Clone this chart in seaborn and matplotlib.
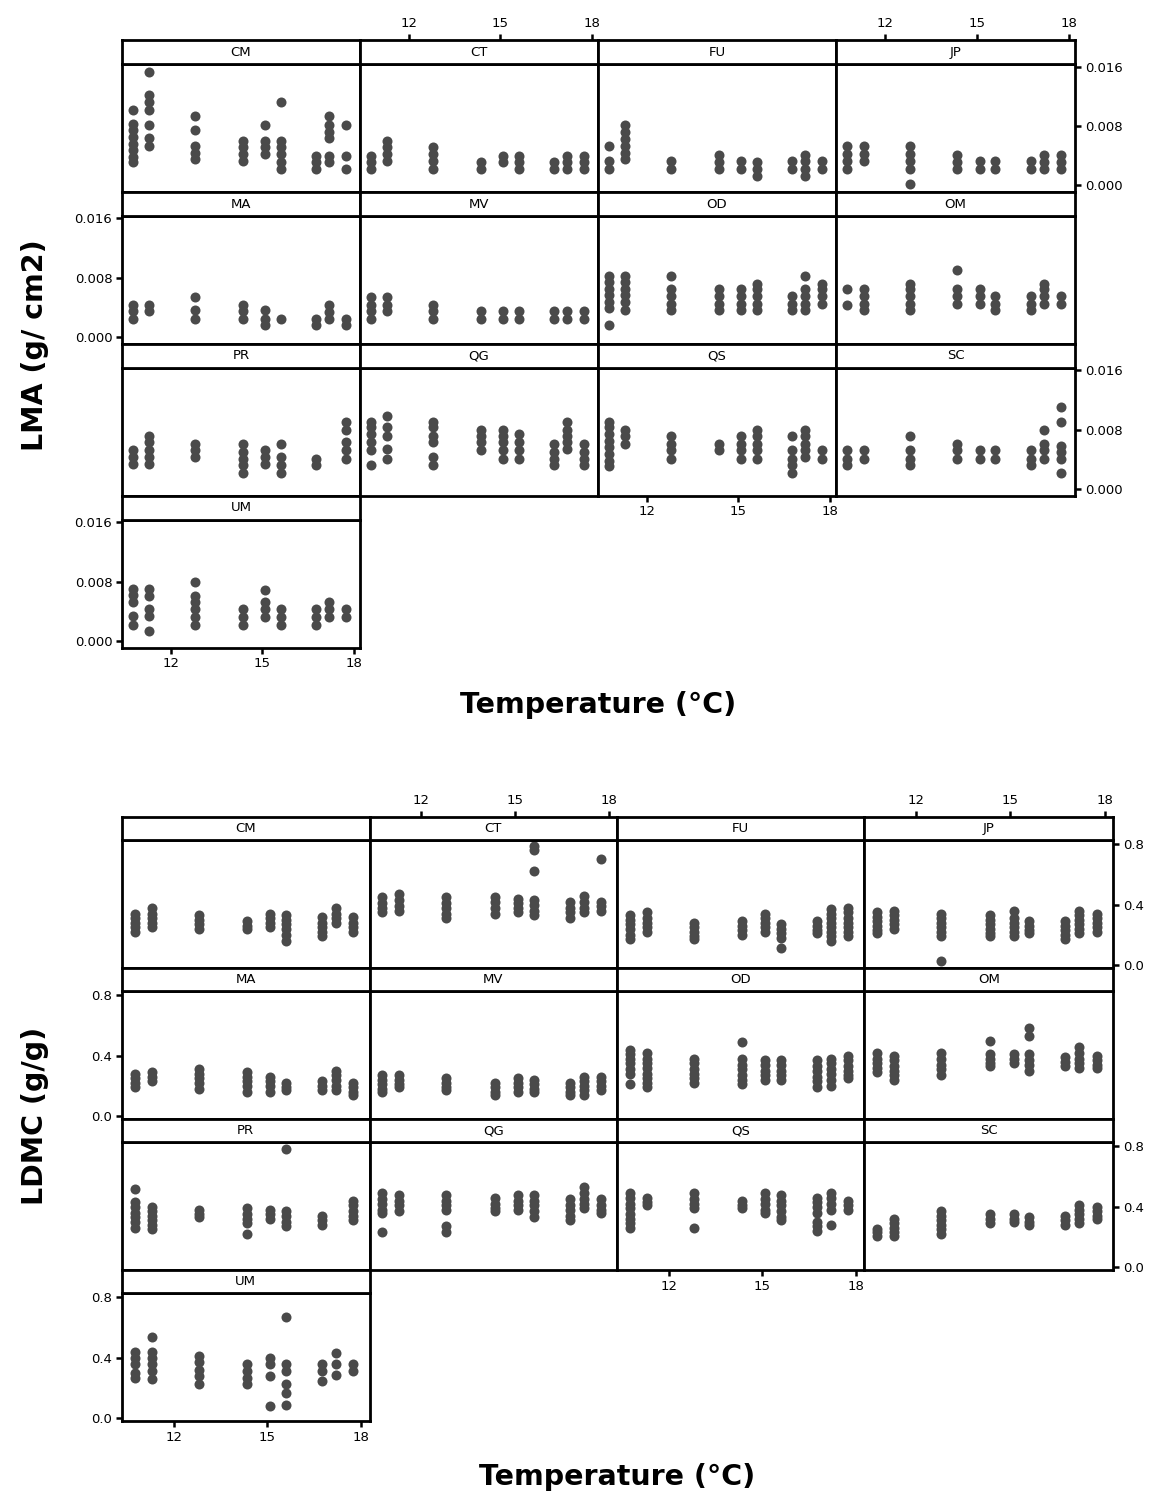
import matplotlib
matplotlib.use('Agg')
import matplotlib.pyplot as plt
import pandas as pd
import seaborn as sns

# Growth temperatures (x positions of the dot strips).
temps = [10.75, 11.3, 12.8, 14.35, 15.1, 15.6, 16.75, 17.2, 17.75]
species = ['CM', 'CT', 'FU', 'JP', 'MA', 'MV', 'OD', 'OM', 'PR', 'QG', 'QS',
           'SC', 'UM']

# LMA (g/cm2), one list of replicates per temperature.
lma_cm = [[0.0101, 0.0082, 0.0074, 0.0065, 0.0056, 0.0047, 0.0038, 0.0031],
          [0.0152, 0.0121, 0.0112, 0.0101, 0.0081, 0.0063, 0.0053],
          [0.0093, 0.0074, 0.0053, 0.0044, 0.0035],
          [0.0060, 0.0051, 0.0042, 0.0033],
          [0.0081, 0.0060, 0.0051, 0.0042],
          [0.0112, 0.0060, 0.0051, 0.0042, 0.0031, 0.0022],
          [0.0040, 0.0031, 0.0022],
          [0.0093, 0.0081, 0.0072, 0.0063, 0.0040, 0.0031],
          [0.0081, 0.0040, 0.0022]]
lma_ct = [[0.0040, 0.0031, 0.0022], [0.0060, 0.0051, 0.0042, 0.0033],
          [0.0051, 0.0042, 0.0033, 0.0022], [0.0031, 0.0022],
          [0.0040, 0.0031], [0.0040, 0.0031, 0.0022], [0.0031, 0.0022],
          [0.0040, 0.0031, 0.0022], [0.0040, 0.0031, 0.0022]]
lma_fu = [[0.0053, 0.0033, 0.0022],
          [0.0081, 0.0072, 0.0062, 0.0053, 0.0044, 0.0035],
          [0.0033, 0.0022], [0.0041, 0.0031, 0.0022], [0.0033, 0.0022],
          [0.0031, 0.0022, 0.0013], [0.0033, 0.0022],
          [0.0041, 0.0033, 0.0022, 0.0013], [0.0033, 0.0022]]
lma_jp = [[0.0053, 0.0042, 0.0033, 0.0022], [0.0053, 0.0042, 0.0033],
          [0.0053, 0.0042, 0.0033, 0.0022, 0.0001], [0.0041, 0.0031, 0.0022],
          [0.0033, 0.0022], [0.0033, 0.0022], [0.0033, 0.0022],
          [0.0041, 0.0031, 0.0022], [0.0041, 0.0031, 0.0022]]
lma_ma = [[0.0043, 0.0035, 0.0025], [0.0043, 0.0035],
          [0.0054, 0.0036, 0.0025], [0.0043, 0.0035, 0.0025],
          [0.0036, 0.0025, 0.0016], [0.0025], [0.0025, 0.0016],
          [0.0043, 0.0034, 0.0025], [0.0025, 0.0016]]
lma_mv = [[0.0054, 0.0043, 0.0035, 0.0025], [0.0054, 0.0043, 0.0035],
          [0.0043, 0.0035, 0.0025], [0.0035, 0.0025], [0.0035, 0.0025],
          [0.0035, 0.0025], [0.0035, 0.0025], [0.0035, 0.0025],
          [0.0035, 0.0025]]
lma_od = [[0.0083, 0.0074, 0.0065, 0.0057, 0.0048, 0.0039, 0.0016],
          [0.0083, 0.0074, 0.0065, 0.0057, 0.0048, 0.0036],
          [0.0083, 0.0065, 0.0056, 0.0045, 0.0036],
          [0.0065, 0.0056, 0.0045, 0.0036],
          [0.0065, 0.0056, 0.0045, 0.0036],
          [0.0072, 0.0065, 0.0056, 0.0045, 0.0036],
          [0.0056, 0.0045, 0.0036],
          [0.0083, 0.0065, 0.0056, 0.0045, 0.0036],
          [0.0072, 0.0065, 0.0056, 0.0045]]
lma_om = [[0.0065, 0.0043], [0.0065, 0.0056, 0.0045, 0.0036],
          [0.0072, 0.0065, 0.0056, 0.0045, 0.0036],
          [0.0090, 0.0065, 0.0056, 0.0045], [0.0065, 0.0056, 0.0045],
          [0.0056, 0.0045, 0.0036], [0.0056, 0.0045, 0.0036],
          [0.0072, 0.0065, 0.0056, 0.0045], [0.0056, 0.0045]]
lma_pr = [[0.0052, 0.0043, 0.0034], [0.0072, 0.0063, 0.0052, 0.0043, 0.0034],
          [0.0061, 0.0052, 0.0043], [0.0061, 0.0050, 0.0041, 0.0032, 0.0021],
          [0.0052, 0.0043, 0.0034], [0.0061, 0.0043, 0.0032, 0.0021],
          [0.0041, 0.0032], [], [0.0091, 0.0080, 0.0063, 0.0052, 0.0041]]
lma_qg = [[0.0091, 0.0083, 0.0074, 0.0063, 0.0052, 0.0033],
          [0.0099, 0.0083, 0.0072, 0.0054, 0.0041],
          [0.0091, 0.0083, 0.0072, 0.0063, 0.0043, 0.0032],
          [0.0080, 0.0072, 0.0063, 0.0052],
          [0.0080, 0.0072, 0.0063, 0.0052, 0.0041],
          [0.0074, 0.0063, 0.0052, 0.0041],
          [0.0061, 0.0050, 0.0041, 0.0032],
          [0.0091, 0.0080, 0.0072, 0.0063, 0.0054],
          [0.0061, 0.0050, 0.0041, 0.0032]]
lma_qs = [[0.0091, 0.0083, 0.0074, 0.0065, 0.0056, 0.0047, 0.0038, 0.0031],
          [0.0080, 0.0072, 0.0061], [0.0072, 0.0061, 0.0052, 0.0041],
          [0.0061, 0.0052], [0.0072, 0.0061, 0.0052, 0.0041],
          [0.0080, 0.0072, 0.0061, 0.0052, 0.0041],
          [0.0072, 0.0052, 0.0041, 0.0032, 0.0021],
          [0.0080, 0.0072, 0.0061, 0.0052, 0.0043], [0.0052, 0.0041]]
lma_sc = [[0.0052, 0.0041, 0.0032], [0.0052, 0.0041],
          [0.0072, 0.0052, 0.0041, 0.0032], [0.0061, 0.0052, 0.0041],
          [0.0052, 0.0041], [0.0052, 0.0041], [0.0052, 0.0041, 0.0032],
          [0.0080, 0.0061, 0.0052, 0.0041],
          [0.0110, 0.0091, 0.0058, 0.0050, 0.0041, 0.0021]]
lma_um = [[0.0070, 0.0062, 0.0052, 0.0033, 0.0022],
          [0.0070, 0.0061, 0.0043, 0.0034, 0.0013],
          [0.0080, 0.0061, 0.0052, 0.0043, 0.0032, 0.0022],
          [0.0043, 0.0032, 0.0022], [0.0069, 0.0053, 0.0043, 0.0032],
          [0.0043, 0.0032, 0.0022], [0.0043, 0.0032, 0.0022],
          [0.0052, 0.0043, 0.0032], [0.0043, 0.0032]]

# LDMC (g/g), one list of replicates per temperature.
ldmc_cm = [[0.34, 0.31, 0.28, 0.25, 0.22], [0.38, 0.34, 0.31, 0.28, 0.25],
           [0.33, 0.30, 0.27, 0.24], [0.29, 0.26, 0.24],
           [0.34, 0.31, 0.28, 0.25], [0.33, 0.30, 0.27, 0.24, 0.20, 0.16],
           [0.32, 0.28, 0.25, 0.22, 0.19], [0.38, 0.34, 0.31, 0.28],
           [0.32, 0.28, 0.25, 0.22]]
ldmc_ct = [[0.45, 0.41, 0.38, 0.35], [0.47, 0.43, 0.39, 0.36],
           [0.45, 0.41, 0.38, 0.34, 0.31], [0.45, 0.42, 0.38, 0.34],
           [0.44, 0.41, 0.38, 0.35], [0.79, 0.76, 0.62, 0.43, 0.40, 0.36, 0.33],
           [0.42, 0.38, 0.35, 0.31], [0.46, 0.42, 0.38, 0.35],
           [0.70, 0.42, 0.39, 0.36]]
ldmc_fu = [[0.33, 0.30, 0.27, 0.24, 0.20, 0.17], [0.35, 0.31, 0.28, 0.25, 0.22],
           [0.28, 0.25, 0.22, 0.19, 0.17], [0.29, 0.26, 0.23, 0.20],
           [0.34, 0.31, 0.28, 0.25, 0.22], [0.27, 0.24, 0.21, 0.18, 0.11],
           [0.29, 0.26, 0.23, 0.21],
           [0.37, 0.34, 0.31, 0.28, 0.25, 0.22, 0.19, 0.16],
           [0.38, 0.35, 0.31, 0.28, 0.25, 0.22, 0.19]]
ldmc_jp = [[0.35, 0.32, 0.29, 0.26, 0.23, 0.21], [0.36, 0.33, 0.30, 0.27, 0.24],
           [0.34, 0.31, 0.28, 0.25, 0.22, 0.19, 0.03],
           [0.33, 0.30, 0.27, 0.24, 0.21, 0.19],
           [0.36, 0.31, 0.28, 0.25, 0.22, 0.19], [0.29, 0.26, 0.23, 0.21],
           [0.29, 0.26, 0.23, 0.20, 0.17],
           [0.36, 0.33, 0.30, 0.27, 0.24, 0.21],
           [0.34, 0.31, 0.28, 0.25, 0.22]]
ldmc_ma = [[0.28, 0.25, 0.22, 0.19], [0.29, 0.26, 0.23],
           [0.31, 0.28, 0.25, 0.22, 0.18], [0.29, 0.26, 0.23, 0.20, 0.16],
           [0.26, 0.23, 0.20, 0.16], [0.22, 0.19, 0.17], [0.23, 0.20, 0.17],
           [0.30, 0.27, 0.24, 0.20, 0.17], [0.22, 0.19, 0.16, 0.14]]
ldmc_mv = [[0.27, 0.24, 0.21, 0.18, 0.16], [0.27, 0.24, 0.21, 0.19],
           [0.25, 0.22, 0.19, 0.17], [0.22, 0.19, 0.16, 0.14],
           [0.25, 0.22, 0.19, 0.16], [0.24, 0.21, 0.18, 0.16],
           [0.22, 0.19, 0.16, 0.14], [0.26, 0.23, 0.20, 0.17, 0.14],
           [0.26, 0.23, 0.20, 0.17]]
ldmc_od = [[0.44, 0.41, 0.38, 0.35, 0.31, 0.28, 0.21],
           [0.42, 0.38, 0.35, 0.32, 0.28, 0.25, 0.22, 0.19],
           [0.38, 0.35, 0.31, 0.28, 0.25, 0.22],
           [0.49, 0.38, 0.34, 0.31, 0.27, 0.24, 0.21],
           [0.37, 0.34, 0.30, 0.27, 0.24], [0.37, 0.34, 0.30, 0.27, 0.24],
           [0.37, 0.33, 0.30, 0.26, 0.23, 0.19],
           [0.38, 0.35, 0.31, 0.28, 0.24, 0.20],
           [0.40, 0.37, 0.33, 0.30, 0.27, 0.25]]
ldmc_om = [[0.42, 0.38, 0.35, 0.32, 0.29], [0.40, 0.37, 0.33, 0.30, 0.27, 0.24],
           [0.42, 0.38, 0.34, 0.31, 0.27], [0.50, 0.41, 0.38, 0.35, 0.33],
           [0.41, 0.38, 0.35], [0.58, 0.53, 0.41, 0.37, 0.34, 0.30],
           [0.39, 0.36, 0.33], [0.46, 0.42, 0.38, 0.35, 0.32],
           [0.40, 0.37, 0.34, 0.32]]
ldmc_pr = [[0.52, 0.43, 0.40, 0.36, 0.33, 0.30, 0.26],
           [0.40, 0.37, 0.34, 0.31, 0.28, 0.25], [0.38, 0.35, 0.33],
           [0.39, 0.35, 0.32, 0.29, 0.22], [0.38, 0.35, 0.32],
           [0.78, 0.37, 0.34, 0.30, 0.27], [0.34, 0.31, 0.28], [],
           [0.44, 0.41, 0.37, 0.34, 0.31]]
ldmc_qg = [[0.49, 0.45, 0.42, 0.38, 0.36, 0.23], [0.48, 0.44, 0.41, 0.37],
           [0.48, 0.44, 0.41, 0.38, 0.27, 0.23], [0.46, 0.42, 0.39, 0.37],
           [0.48, 0.44, 0.41, 0.38], [0.48, 0.44, 0.41, 0.37, 0.33],
           [0.45, 0.41, 0.38, 0.34, 0.31], [0.53, 0.49, 0.45, 0.42, 0.39],
           [0.45, 0.41, 0.38, 0.36]]
ldmc_qs = [[0.49, 0.46, 0.42, 0.39, 0.35, 0.32, 0.29, 0.26],
           [0.46, 0.43, 0.41], [0.49, 0.45, 0.42, 0.39, 0.26],
           [0.44, 0.41, 0.39], [0.49, 0.45, 0.42, 0.38, 0.36],
           [0.48, 0.44, 0.41, 0.37, 0.33, 0.31],
           [0.46, 0.43, 0.40, 0.36, 0.30, 0.27, 0.24],
           [0.49, 0.46, 0.42, 0.38, 0.28], [0.44, 0.41, 0.38]]
ldmc_sc = [[0.25, 0.23, 0.21], [0.32, 0.29, 0.26, 0.23, 0.21],
           [0.37, 0.34, 0.31, 0.28, 0.25, 0.22], [0.35, 0.32, 0.29],
           [0.35, 0.32, 0.30], [0.33, 0.30, 0.28], [0.34, 0.31, 0.28],
           [0.41, 0.38, 0.35, 0.32, 0.29], [0.40, 0.37, 0.34, 0.32]]
ldmc_um = [[0.44, 0.40, 0.36, 0.30, 0.27], [0.54, 0.44, 0.40, 0.36, 0.31, 0.26],
           [0.41, 0.37, 0.32, 0.28, 0.23], [0.36, 0.31, 0.27, 0.23],
           [0.40, 0.36, 0.28, 0.08], [0.67, 0.36, 0.31, 0.23, 0.17, 0.09],
           [0.36, 0.31, 0.25], [0.43, 0.36, 0.29], [0.36, 0.31]]

lma_values = dict(zip(species, [lma_cm, lma_ct, lma_fu, lma_jp, lma_ma, lma_mv,
                                lma_od, lma_om, lma_pr, lma_qg, lma_qs, lma_sc,
                                lma_um]))
ldmc_values = dict(zip(species, [ldmc_cm, ldmc_ct, ldmc_fu, ldmc_jp, ldmc_ma,
                                 ldmc_mv, ldmc_od, ldmc_om, ldmc_pr, ldmc_qg,
                                 ldmc_qs, ldmc_sc, ldmc_um]))

# Long-form table for seaborn.
records = []
for trait, table in (('LMA', lma_values), ('LDMC', ldmc_values)):
    for sp, cols in table.items():
        for t, vals in zip(temps, cols):
            for v in vals:
                records.append((trait, sp, t, v))
data_df = pd.DataFrame(records, columns=['trait', 'species', 'temp', 'value'])

sns.set_theme(style='white')
plt.rcParams['font.family'] = ['DejaVu Sans']
plt.rcParams['text.color'] = 'black'
plt.rcParams['xtick.color'] = 'black'
plt.rcParams['ytick.color'] = 'black'

W, H = 1158, 1494
fig = plt.figure(figsize=(W / 100, H / 100), dpi=100)
DOT = '#4a4a4a'
TICK_KW = dict(length=4.5, width=1.8, labelsize=9.5, color='black',
               labelcolor='black', pad=2.5)


def px_axes(x0, y0, x1, y1):
    return fig.add_axes([x0 / W, 1 - y1 / H, (x1 - x0) / W, (y1 - y0) / H])


def style_box(ax):
    for sp in ax.spines.values():
        sp.set_visible(True)
        sp.set_color('black')
        sp.set_linewidth(2)
    ax.set_xlabel('')
    ax.set_ylabel('')
    ax.tick_params(left=False, bottom=False, right=False, top=False,
                   labelleft=False, labelbottom=False)


def draw_lattice(trait, edges, top, pitch, strip_h, xlim, ylim, yticks,
                 ylabels, ylabel, ylabel_y, xlabel_y):
    sub = data_df[data_df['trait'] == trait]
    for i, sp in enumerate(species):
        r, c = divmod(i, 4)
        x0, x1 = edges[c], edges[c + 1]
        s_top = top + r * pitch
        d_top = s_top + strip_h
        d_bot = top + (r + 1) * pitch

        ax = px_axes(x0, d_top, x1, d_bot)
        sns.scatterplot(data=sub[sub['species'] == sp], x='temp', y='value',
                        ax=ax, s=52, color=DOT, linewidth=0, legend=False)
        ax.set_xlim(xlim)
        ax.set_ylim(ylim)
        style_box(ax)
        ax.set_xticks([12, 15, 18])
        ax.set_yticks(yticks)
        ax.set_yticklabels(ylabels)

        # Strip with species code.
        sax = px_axes(x0, s_top, x1, d_top)
        sax.set_xlim(xlim)
        sax.set_ylim(0, 1)
        style_box(sax)
        sax.set_xticks([12, 15, 18])
        sax.set_yticks([])
        sax.text(0.5, 0.5, sp, transform=sax.transAxes, ha='center',
                 va='center', fontsize=9.5, color='black')

        # Alternating lattice axes.
        if r == 0 and c in (1, 3):
            sax.tick_params(axis='x', top=True, labeltop=True, **TICK_KW)
        if (c == 0 and r == 3) or (c == 2 and r == 2):
            ax.tick_params(axis='x', bottom=True, labelbottom=True, **TICK_KW)
        if c == 3 and r in (0, 2):
            ax.tick_params(axis='y', right=True, labelright=True, **TICK_KW)
        if c == 0 and r in (1, 3):
            ax.tick_params(axis='y', left=True, labelleft=True, **TICK_KW)

    fig.text(35 / W, 1 - ylabel_y / H, ylabel, rotation=90, ha='center',
             va='center', fontsize=20.5, fontweight='bold', color='black')
    fig.text((edges[0] + edges[-1]) / 2 / W, 1 - xlabel_y / H,
             'Temperature (°C)', ha='center', va='center', fontsize=20.5,
             fontweight='bold', color='black')


draw_lattice('LMA', [122, 360, 598, 836, 1075], 40, 151.9, 24.3,
             (10.4, 18.2), (-0.0009, 0.0163), [0.0, 0.008, 0.016],
             ['0.000', '0.008', '0.016'], 'LMA (g/ cm2)', 345, 705)
draw_lattice('LDMC', [122, 369.5, 617, 864.5, 1113], 816.7, 151.1, 23.3,
             (10.35, 18.27), (-0.018, 0.827), [0.0, 0.4, 0.8],
             ['0.0', '0.4', '0.8'], 'LDMC (g/g)', 1116, 1477)

fig.savefig('out.png', dpi=100)
